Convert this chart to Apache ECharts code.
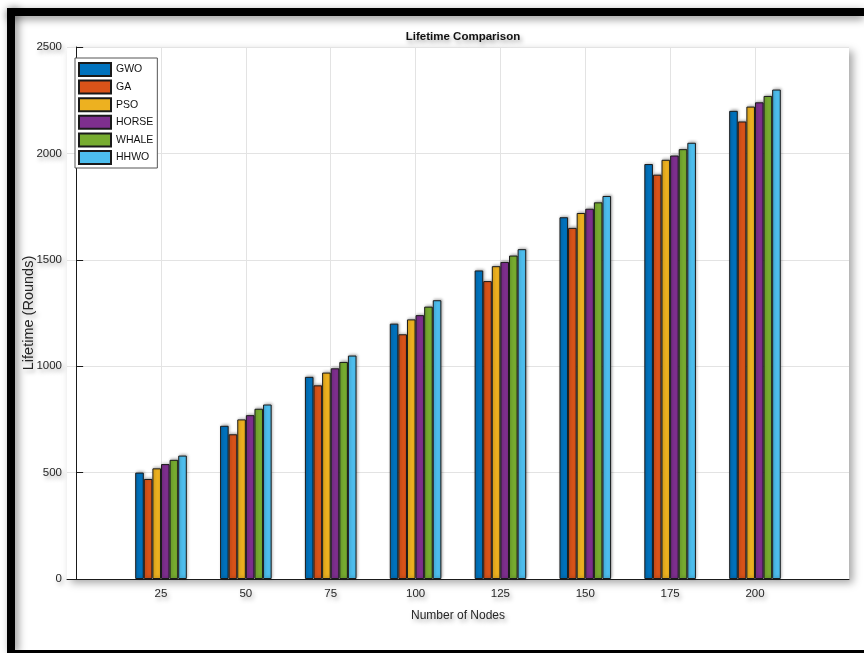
<!DOCTYPE html>
<html>
<head>
<meta charset="utf-8">
<script src="https://cdn.jsdelivr.net/npm/echarts@6/dist/echarts.min.js"></script>
<style>
  html, body { margin: 0; padding: 0; background: #fff; }
  #chart { width: 864px; height: 653px; }
</style>
</head>
<body>
<div id="chart"></div>
<script>
// Network size (x positions) and lifetime in rounds for each algorithm
const nodes = [25, 50, 75, 100, 125, 150, 175, 200];
const gwo   = [500, 720, 950, 1200, 1450, 1700, 1950, 2200];
const ga    = [470, 680, 910, 1150, 1400, 1650, 1900, 2150];
const pso   = [520, 750, 970, 1220, 1470, 1720, 1970, 2220];
const horse = [540, 770, 990, 1240, 1490, 1740, 1990, 2240];
const whale = [560, 800, 1020, 1280, 1520, 1770, 2020, 2270];
const hhwo  = [580, 820, 1050, 1310, 1550, 1800, 2050, 2300];

const seriesNames = ['GWO', 'GA', 'PSO', 'HORSE', 'WHALE', 'HHWO'];
const seriesValues = [gwo, ga, pso, horse, whale, hhwo];
const colors = ['#0072BD', '#D95319', '#EDB120', '#7E2F8E', '#77AC30', '#4DBEEE'];
const yTicks = [0, 500, 1000, 1500, 2000, 2500];

const FONT = '"Liberation Sans", Arial, Helvetica, sans-serif';
const shadowText = {
  textShadowColor: 'rgba(0,0,0,0.35)',
  textShadowBlur: 4,
  textShadowOffsetX: 2,
  textShadowOffsetY: 3
};

const chart = echarts.init(document.getElementById('chart'), null, { renderer: 'canvas' });

const series = seriesNames.map((name, s) => ({
  name: name,
  type: 'bar',
  barWidth: 8.6,
  barGap: '0%',
  data: nodes.map((n, i) => [n, seriesValues[s][i]]),
  itemStyle: {
    color: colors[s],
    borderColor: '#1a1a1a',
    borderWidth: 1,
    shadowColor: 'rgba(0,0,0,0.3)',
    shadowBlur: 3,
    shadowOffsetX: 1,
    shadowOffsetY: -1
  },
  emphasis: { disabled: true },
  animation: false
}));

chart.setOption({
  animation: false,
  backgroundColor: '#fff',
  title: {
    text: 'Lifetime Comparison',
    left: 458,
    textAlign: 'center',
    top: 26,
    textStyle: Object.assign({ fontFamily: FONT, fontSize: 11.5, fontWeight: 'bold', color: '#111' }, shadowText)
  },
  legend: {
    orient: 'vertical',
    left: 75,
    top: 58,
    backgroundColor: '#fff',
    borderColor: '#555',
    borderWidth: 1,
    padding: [4, 4, 3, 3],
    itemWidth: 32,
    itemHeight: 13,
    itemGap: 2.6,
    icon: 'rect',
    data: seriesNames,
    textStyle: { fontFamily: FONT, fontSize: 10.5, color: '#111' }
  },
  grid: {
    left: 67,
    right: 15,
    top: 47,
    bottom: 74,
    show: true,
    backgroundColor: '#fff',
    borderWidth: 0,
    shadowColor: 'rgba(0,0,0,0.35)',
    shadowBlur: 8,
    shadowOffsetX: 4,
    shadowOffsetY: 4
  },
  xAxis: {
    type: 'value',
    min: -2.7,
    max: 227.7,
    name: 'Number of Nodes',
    nameLocation: 'middle',
    nameGap: 31,
    nameMoveOverlap: false,
    nameTextStyle: Object.assign({ fontFamily: FONT, fontSize: 12, color: '#262626' }, shadowText),
    axisLine: { show: true, onZero: false, lineStyle: { color: '#1a1a1a', width: 1 } },
    axisTick: { show: false, customValues: nodes },
    axisLabel: {
      customValues: nodes,
      margin: 9,
      fontFamily: FONT, fontSize: 11.5, color: '#262626',
      textShadowColor: 'rgba(0,0,0,0.35)', textShadowBlur: 4, textShadowOffsetX: 2, textShadowOffsetY: 3
    },
    splitLine: { show: true, lineStyle: { color: '#e3e3e3', width: 1 } }
  },
  yAxis: {
    type: 'value',
    min: 0,
    max: 2500,
    interval: 500,
    name: 'Lifetime (Rounds)',
    nameLocation: 'middle',
    nameGap: 31,
    nameMoveOverlap: false,
    nameTextStyle: Object.assign({ fontFamily: FONT, fontSize: 14.5, color: '#262626' }, shadowText),
    axisLine: { show: true, lineStyle: { color: '#1a1a1a', width: 1 } },
    axisTick: { show: true, inside: true, length: 7, lineStyle: { color: '#1a1a1a' } },
    axisLabel: {
      margin: 5,
      fontFamily: FONT, fontSize: 11.5, color: '#262626',
      textShadowColor: 'rgba(0,0,0,0.35)', textShadowBlur: 4, textShadowOffsetX: 2, textShadowOffsetY: 3,
      formatter: v => (yTicks.indexOf(v) >= 0 ? String(v) : '')
    },
    splitLine: { show: true, lineStyle: { color: '#e3e3e3', width: 1 } }
  },
  graphic: [
    // black frame around the figure: top band, left band and bottom rule
    {
      type: 'rect', z: 100, silent: true,
      shape: { x: 7, y: 8, width: 857, height: 8 },
      style: { fill: '#000', shadowColor: 'rgba(0,0,0,0.45)', shadowBlur: 8, shadowOffsetY: 3 }
    },
    {
      type: 'rect', z: 100, silent: true,
      shape: { x: 7, y: 8, width: 8, height: 645 },
      style: { fill: '#000', shadowColor: 'rgba(0,0,0,0.45)', shadowBlur: 8, shadowOffsetX: 3 }
    },
    {
      type: 'rect', z: 100, silent: true,
      shape: { x: 7, y: 650, width: 857, height: 3 },
      style: { fill: '#000' }
    }
  ],
  series: series
});
</script>
</body>
</html>
